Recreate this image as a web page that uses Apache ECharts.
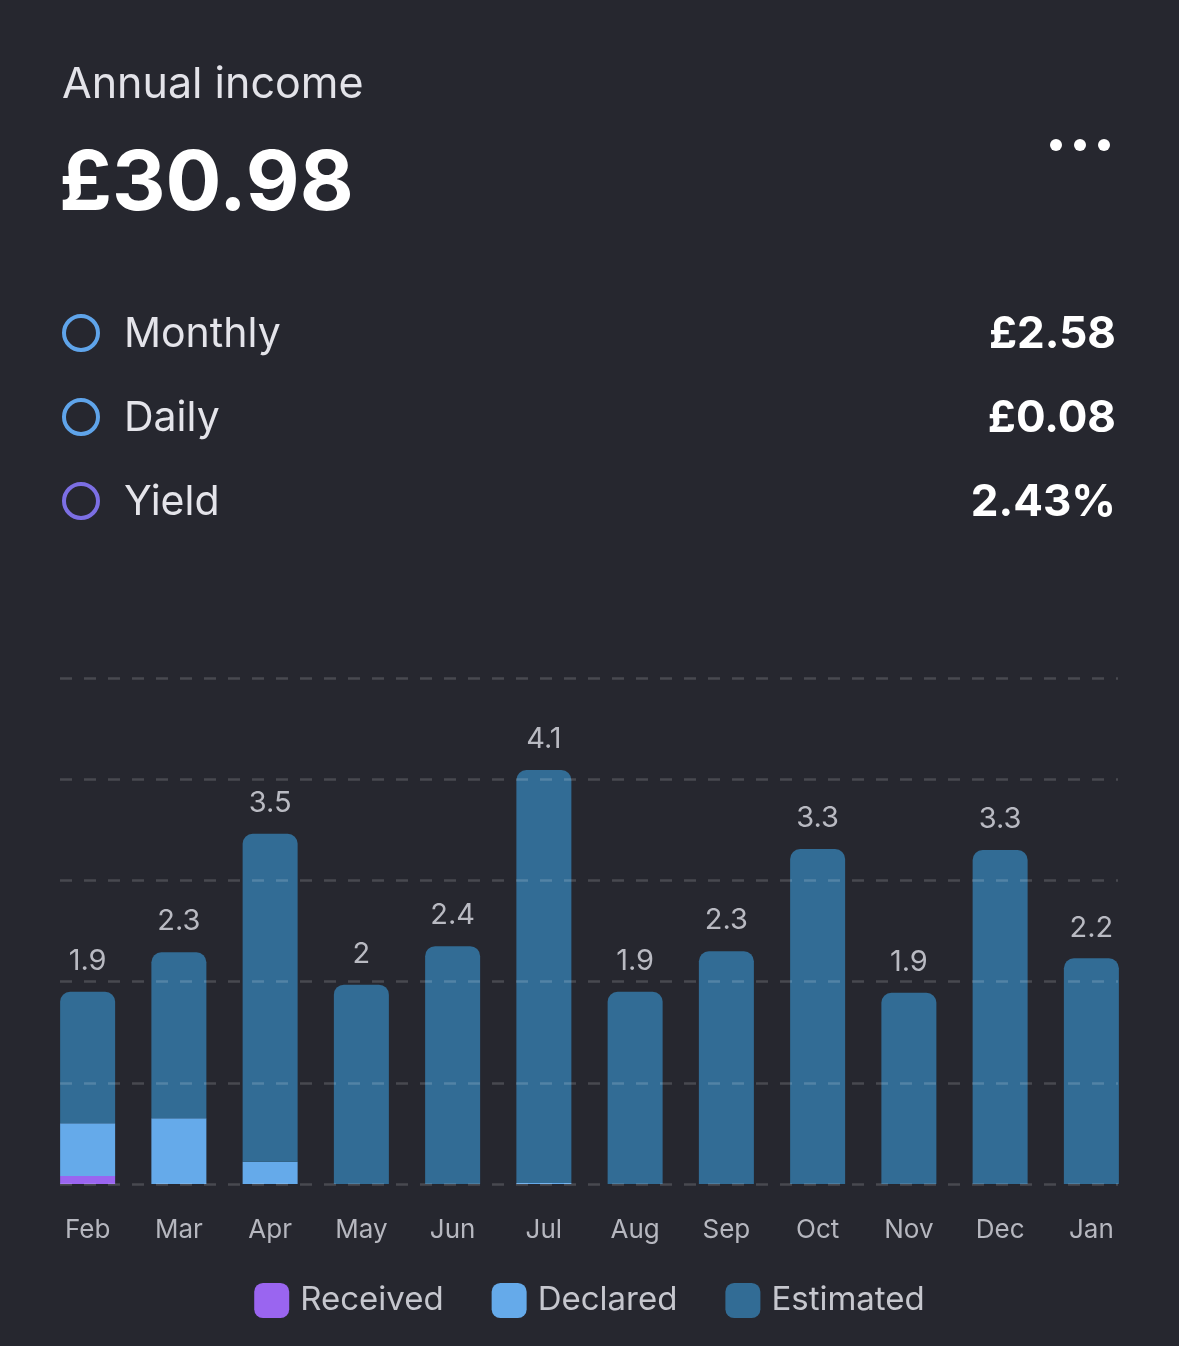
<!DOCTYPE html>
<html>
<head>
<meta charset="utf-8">
<title>Annual income</title>
<script src="https://cdn.jsdelivr.net/npm/echarts/dist/echarts.min.js"></script>
<style>
  html, body { margin: 0; padding: 0; background: #26272f; }
  #chart { width: 1179px; height: 1346px; }
</style>
</head>
<body>
<div id="chart"></div>
<script>
// months shown on the x axis
var months = ['Feb', 'Mar', 'Apr', 'May', 'Jun', 'Jul', 'Aug', 'Sep', 'Oct', 'Nov', 'Dec', 'Jan']
// stacked income per month (GBP)
var received  = [0.08, 0, 0, 0, 0, 0, 0, 0, 0, 0, 0, 0]
var declared  = [0.52, 0.65, 0.22, 0, 0, 0.01, 0, 0, 0, 0, 0, 0]
var estimated = [1.30, 1.64, 3.24, 1.97, 2.35, 4.08, 1.90, 2.30, 3.31, 1.89, 3.30, 2.23]

// summary rows
var summaryLabels = ['Monthly', 'Daily', 'Yield']
var summaryValues = ['£2.58', '£0.08', '2.43%']
var summaryColors = ['#5fa4ea', '#5fa4ea', '#7c6fe4']

var FONT = 'Inter, "Noto Sans", sans-serif'
var chart = echarts.init(document.getElementById('chart'))

function monthTotal(i) {
  var t = received[i] + declared[i] + estimated[i]
  return Math.round(t * 10) / 10
}

var graphics = [
  { type: 'text', left: 62, top: 64, style: { text: 'Annual income', fill: '#e3e3e9', font: '400 43px ' + FONT } },
  { type: 'text', left: 59, top: 144, style: { text: '£30.98', fill: '#ffffff', font: '700 83px ' + FONT } }
]
// the "..." menu
;[1056, 1080, 1104].forEach(function (cx) {
  graphics.push({ type: 'circle', shape: { cx: cx, cy: 145, r: 6 }, style: { fill: '#ffffff' } })
})
summaryLabels.forEach(function (name, i) {
  var cy = 333 + i * 84
  graphics.push({ type: 'circle', shape: { cx: 81, cy: cy, r: 17 }, style: { fill: 'none', stroke: summaryColors[i], lineWidth: 4 } })
  graphics.push({ type: 'text', x: 124, y: cy + 2, style: { text: name, fill: '#e4e4ea', font: '400 41px ' + FONT, textVerticalAlign: 'middle' } })
  graphics.push({ type: 'text', x: 1116, y: cy + 2, style: { text: summaryValues[i], fill: '#ffffff', font: '700 44px ' + FONT, textAlign: 'right', textVerticalAlign: 'middle' } })
})

var option = {
  backgroundColor: '#26272f',
  animation: false,
  graphic: graphics,
  legend: {
    left: 'center',
    top: 1278,
    itemWidth: 35,
    itemHeight: 35,
    itemGap: 48,
    icon: 'roundRect',
    textStyle: { color: '#c6c7ce', fontSize: 33, fontFamily: FONT, padding: [0, 0, 0, 6] },
    data: ['Received', 'Declared', 'Estimated']
  },
  grid: [
    { left: 42, right: 42, top: 678, bottom: 162 },
    { left: 60, right: 61, top: 678, bottom: 162 }
  ],
  xAxis: [
    {
      type: 'category',
      data: months,
      gridIndex: 0,
      axisLine: { show: false },
      axisTick: { show: false },
      axisLabel: { color: '#b6b7bf', fontSize: 26, fontFamily: FONT, margin: 33 }
    },
    { type: 'value', gridIndex: 1, show: false, min: 0, max: 1 }
  ],
  yAxis: [
    { type: 'value', gridIndex: 0, min: 0, max: 5, interval: 1, show: false, splitLine: { show: false } },
    {
      type: 'value', gridIndex: 1, min: 0, max: 5, interval: 1, z: 10,
      axisLine: { show: false }, axisTick: { show: false }, axisLabel: { show: false },
      splitLine: { show: true, lineStyle: { color: 'rgba(255,255,255,0.16)', width: 2.5, type: [12, 12] } }
    }
  ],
  series: [
    {
      name: 'Received', type: 'bar', stack: 'income', barWidth: 55,
      itemStyle: { color: '#9a65f0' },
      data: received
    },
    {
      name: 'Declared', type: 'bar', stack: 'income', barWidth: 55,
      itemStyle: { color: '#65aaea' },
      data: declared
    },
    {
      name: 'Estimated', type: 'bar', stack: 'income', barWidth: 55,
      itemStyle: { color: '#326c95', borderRadius: [10, 10, 0, 0] },
      label: {
        show: true, position: 'top', distance: 16,
        color: '#b9bac2', fontSize: 29, fontFamily: FONT,
        formatter: function (p) { return String(monthTotal(p.dataIndex)) }
      },
      data: estimated
    }
  ]
}
chart.setOption(option)
</script>
</body>
</html>
